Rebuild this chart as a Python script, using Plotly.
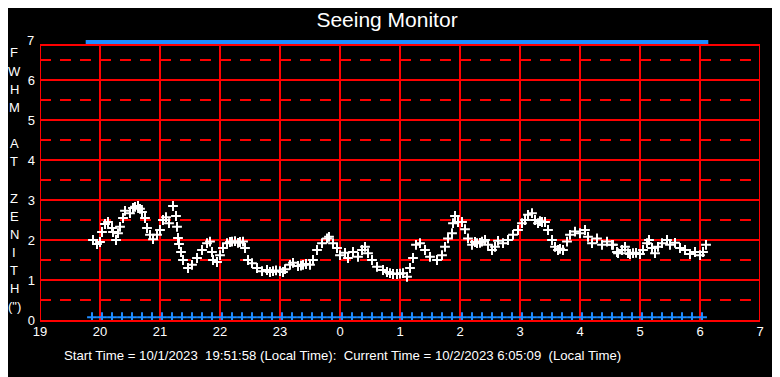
import plotly.graph_objects as go

# ---------------- data ----------------
# x axis: hours (19 .. 31 == 7 next morning)
x_tick_vals = [19, 20, 21, 22, 23, 24, 25, 26, 27, 28, 29, 30, 31]
x_tick_text = ["19", "20", "21", "22", "23", "0", "1", "2", "3", "4", "5", "6", "7"]
y_tick_vals = [0, 1, 2, 3, 4, 5, 6]
y_tick_text = ["0", "1", "2", "3", "4", "5", "6"]
y_minor_vals = [0.5, 1.5, 2.5, 3.5, 4.5, 5.5, 6.5]

# seeing measurements: minutes after 19:00 and FWHM (arcsec)
seeing_minutes = [
    53, 57, 60, 62, 65, 68, 72, 73, 76, 78,
    80, 83, 85, 90, 93, 95, 98, 100, 102, 105,
    107, 110, 113, 117, 120, 123, 126, 129, 133, 136,
    137, 138, 139, 141, 143, 148, 152, 157, 162, 167,
    170, 172, 173, 177, 180, 183, 187, 190, 192, 195,
    198, 200, 203, 205, 208, 212, 217, 222, 227, 230,
    233, 236, 240, 243, 245, 250, 253, 258, 261, 263,
    266, 270, 273, 277, 282, 287, 289, 293, 297, 300,
    305, 308, 313, 318, 322, 325, 328, 332, 337, 343,
    347, 350, 353, 357, 360, 363, 367, 370, 373, 376,
    380, 385, 390, 397, 402, 405, 408, 412, 413, 415,
    418, 422, 425, 428, 432, 435, 437, 440, 442, 445,
    448, 452, 455, 458, 463, 468, 473, 478, 482, 485,
    488, 492, 495, 498, 500, 502, 505, 508, 512, 515,
    518, 520, 523, 527, 530, 535, 540, 545, 548, 552,
    557, 562, 567, 572, 573, 577, 578, 582, 585, 588,
    590, 593, 596, 600, 603, 607, 609, 612, 615, 618,
    622, 627, 630, 635, 640, 645, 650, 655, 660, 663,
    666,
]
seeing_fwhm = [
    2.00, 1.90, 1.95, 2.20, 2.40, 2.45, 2.30, 2.20, 2.00, 2.17,
    2.33, 2.55, 2.73, 2.67, 2.80, 2.83, 2.85, 2.78, 2.70, 2.55,
    2.30, 2.13, 2.02, 2.13, 2.25, 2.50, 2.57, 2.42, 2.85, 2.60,
    2.33, 2.05, 1.90, 1.70, 1.50, 1.30, 1.38, 1.55, 1.75, 1.92,
    1.96, 1.70, 1.50, 1.45, 1.62, 1.80, 1.92, 1.95, 1.96, 1.97,
    1.93, 1.95, 1.96, 1.80, 1.50, 1.42, 1.30, 1.22, 1.25, 1.20,
    1.22, 1.24, 1.22, 1.20, 1.27, 1.38, 1.43, 1.35, 1.36, 1.38,
    1.40, 1.38, 1.50, 1.75, 1.92, 2.04, 2.08, 1.92, 1.80, 1.62,
    1.68, 1.55, 1.70, 1.58, 1.75, 1.83, 1.67, 1.50, 1.33, 1.25,
    1.20, 1.17, 1.15, 1.15, 1.16, 1.17, 1.08, 1.30, 1.55, 1.88,
    1.92, 1.75, 1.58, 1.50, 1.62, 1.83, 2.04, 2.17, 2.42, 2.60,
    2.45, 2.45, 2.27, 2.04, 1.88, 1.95, 1.92, 1.93, 1.96, 2.00,
    1.88, 1.75, 1.83, 1.98, 1.92, 2.00, 2.13, 2.25, 2.42, 2.50,
    2.63, 2.67, 2.50, 2.42, 2.47, 2.45, 2.45, 2.25, 2.00, 1.83,
    1.75, 1.78, 1.75, 1.96, 2.13, 2.21, 2.17, 2.25, 2.08, 1.92,
    2.04, 1.88, 1.96, 1.88, 1.88, 1.70, 1.67, 1.75, 1.83, 1.67,
    1.65, 1.67, 1.68, 1.65, 1.75, 1.92, 2.00, 1.80, 1.67, 1.83,
    1.92, 2.00, 1.88, 1.93, 1.80, 1.75, 1.65, 1.70, 1.62, 1.70,
    1.88,
]

# status markers (minutes after 19:00), drawn along top and bottom
status_minutes = [
    52, 62, 72, 82, 92, 102, 112, 122, 132, 142,
    152, 162, 172, 182, 192, 202, 212, 222, 232, 242,
    252, 262, 272, 282, 292, 302, 312, 322, 332, 342,
    352, 362, 372, 382, 392, 402, 412, 422, 432, 442,
    452, 462, 472, 482, 492, 502, 512, 522, 532, 542,
    552, 562, 572, 582, 592, 602, 612, 622, 632, 642,
    652, 662,
]
status_top_level = 6.95
status_bottom_level = 0.07

title_text = "Seeing Monitor"
y_title_letters = ["F", "W", "H", "M", "", "A", "T", "", "Z", "E", "N", "I", "T", "H", "(\")"]
footer_text = ("Start Time = 10/1/2023\u00a0 19:51:58 (Local Time):\u00a0 Current Time = "
               "10/2/2023 6:05:09\u00a0 (Local Time)")

# ---------------- figure ----------------
FONT = "Liberation Sans, Arial, sans-serif"
RED = "#ff0000"
BLUE = "#1e8cff"
FRAME_TOP = 6.875   # top edge of the red frame
PLOT_H = 280        # plot area height in px


def to_hours(mins):
    return [19 + m / 60 for m in mins]


fig = go.Figure()

fig.add_trace(go.Scatter(
    x=to_hours(status_minutes), y=[status_top_level] * len(status_minutes),
    mode="markers", cliponaxis=False, hoverinfo="skip",
    marker=dict(symbol="line-ew-open", size=9, color=BLUE, line=dict(width=4, color=BLUE)),
))
fig.add_trace(go.Scatter(
    x=to_hours(status_minutes), y=[status_bottom_level] * len(status_minutes),
    mode="markers", cliponaxis=False, hoverinfo="skip",
    marker=dict(symbol="cross-thin-open", size=7, color=BLUE, line=dict(width=2, color=BLUE)),
))
fig.add_trace(go.Scatter(
    x=to_hours(seeing_minutes), y=seeing_fwhm,
    mode="markers", cliponaxis=False,
    marker=dict(symbol="cross-thin-open", size=7, color="white", line=dict(width=2, color="white")),
))

# vertical grid / frame lines stop at the frame top
for v in x_tick_vals:
    fig.add_shape(type="line", xref="x", yref="y", x0=v, x1=v, y0=0, y1=FRAME_TOP,
                  line=dict(color=RED, width=2), layer="below")
fig.add_shape(type="line", xref="x", yref="y", x0=x_tick_vals[0], x1=x_tick_vals[-1],
              y0=FRAME_TOP, y1=FRAME_TOP, line=dict(color=RED, width=2), layer="below")

fig.update_layout(
    width=780, height=377,
    margin=dict(l=32, r=28, t=32, b=65),
    paper_bgcolor="black", plot_bgcolor="black",
    showlegend=False,
    font=dict(family=FONT, color="white", size=13),
    title=dict(text=title_text, x=379 / 780, y=1 - 12 / 377, xanchor="center", yanchor="middle",
               font=dict(family=FONT, size=21, color="white")),
    xaxis=dict(range=[19, 31], tickvals=x_tick_vals, ticktext=x_tick_text,
               showgrid=False, zeroline=False,
               showline=True, mirror=False, linecolor=RED, linewidth=2,
               ticks="", ticklabelstandoff=-2, tickfont=dict(size=13, color="white")),
    yaxis=dict(range=[0, 7], tickvals=y_tick_vals, ticktext=y_tick_text,
               showgrid=True, gridcolor=RED, gridwidth=2, zeroline=False,
               showline=False,
               ticks="", ticklabelstandoff=4, tickfont=dict(size=13, color="white")
               , minor=dict(tickvals=y_minor_vals, showgrid=True, gridcolor=RED, gridwidth=2,
                            griddash="11px,9px")),
)

# "7" label at the top of the value axis
fig.add_annotation(text="7", xref="paper", yref="paper", x=0, y=1,
                   xanchor="right", yanchor="middle", xshift=-4, showarrow=False,
                   font=dict(family=FONT, size=13, color="white"))

# vertical stacked axis title, one letter per line (first letter 267 px above plot bottom)
for i, letter in enumerate(y_title_letters):
    if not letter:
        continue
    fig.add_annotation(text=letter, xref="paper", yref="paper",
                       x=(14 - 40) / 720, y=(267 - i * 18.14) / PLOT_H,
                       xanchor="center", yanchor="middle", showarrow=False,
                       font=dict(family=FONT, size=13, color="white"))

fig.add_annotation(text=footer_text, xref="paper", yref="paper",
                   x=(62 - 40) / 720, y=-35 / PLOT_H, xanchor="left", yanchor="middle",
                   showarrow=False, font=dict(family=FONT, size=13.2, color="white"))

fig.write_html("out.html")
